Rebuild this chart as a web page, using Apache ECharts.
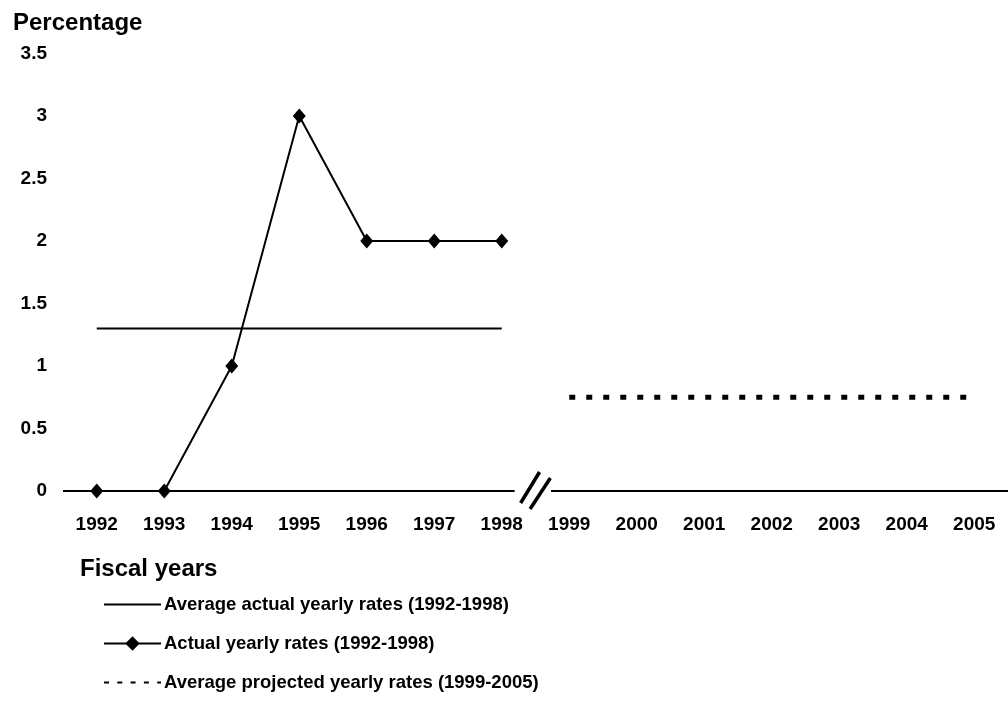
<!DOCTYPE html>
<html>
<head>
<meta charset="utf-8">
<script src="https://cdn.jsdelivr.net/npm/echarts@6/dist/echarts.min.js"></script>
<style>html,body{margin:0;padding:0;background:#fff;}#c{width:1008px;height:702px;}</style>
</head>
<body>
<div id="c"></div>
<script>
const years = ['1992','1993','1994','1995','1996','1997','1998','1999','2000','2001','2002','2003','2004','2005'];
const actualRates = [0, 0, 1, 3, 2, 2, 2, '-', '-', '-', '-', '-', '-', '-'];
const avgActual = [1.3, 1.3, 1.3, 1.3, 1.3, 1.3, 1.3, '-', '-', '-', '-', '-', '-', '-'];
const avgProjected = ['-', '-', '-', '-', '-', '-', '-', 0.75, 0.75, 0.75, 0.75, 0.75, 0.75, 0.75];
const seriesNames = ['Average actual yearly rates (1992-1998)', 'Actual yearly rates (1992-1998)', 'Average projected yearly rates (1999-2005)'];

// axis break (in category-index units on a hidden value axis)
const baseLeft = [[-0.5, 0], [6.19, 0]];
const baseRight = [[6.73, 0], [13.5, 0]];
const slash1 = [[6.56, 0.152], [6.28, -0.096]];
const slash2 = [[6.72, 0.104], [6.42, -0.144]];

const FONT = '"Liberation Sans", Arial, sans-serif';
const chart = echarts.init(document.getElementById('c'));
const lineSeg = (data, w) => ({
  type: 'line', xAxisIndex: 1, data: data, symbol: 'none', clip: false, silent: true,
  lineStyle: { color: '#000', width: w }, z: 1
});
chart.setOption({
  animation: false,
  backgroundColor: '#fff',
  grid: { left: 63, right: -3, top: 53.5, bottom: 211, containLabel: false },
  title: [
    { text: 'Percentage', left: 8, top: 6, textStyle: { fontFamily: FONT, fontSize: 24, fontWeight: 'bold', color: '#000' } },
    { text: 'Fiscal years', left: 75, top: 552, textStyle: { fontFamily: FONT, fontSize: 24, fontWeight: 'bold', color: '#000' } }
  ],
  legend: {
    orient: 'vertical', left: 103, top: 595, padding: 0, itemWidth: 57, itemHeight: 18, itemGap: 20,
    textStyle: { fontFamily: FONT, fontSize: 18.5, fontWeight: 'bold', color: '#000', padding: [0, 0, 0, -2] },
    data: [
      { name: seriesNames[0], itemStyle: { opacity: 0 } },
      { name: seriesNames[1] },
      { name: seriesNames[2], itemStyle: { opacity: 0 }, lineStyle: { width: 2, type: [5, 8.3] } }
    ]
  },
  xAxis: [
    {
      type: 'category', data: years, boundaryGap: true,
      axisLine: { show: false }, axisTick: { show: false },
      axisLabel: { margin: 24, fontFamily: FONT, fontSize: 19, fontWeight: 'bold', color: '#000' }
    },
    { type: 'value', min: -0.5, max: 13.5, show: false }
  ],
  yAxis: {
    type: 'value', min: 0, max: 3.5, interval: 0.5,
    axisLine: { show: false }, axisTick: { show: false }, splitLine: { show: false },
    axisLabel: { margin: 16, fontFamily: FONT, fontSize: 19, fontWeight: 'bold', color: '#000' }
  },
  series: [
    lineSeg(baseLeft, 2),
    lineSeg(baseRight, 2),
    lineSeg(slash1, 3.5),
    lineSeg(slash2, 3.5),
    {
      name: seriesNames[0], type: 'line', data: avgActual, symbol: 'none',
      lineStyle: { color: '#000', width: 2 }, itemStyle: { color: '#000' }, z: 2
    },
    {
      name: seriesNames[1], type: 'line', data: actualRates, symbol: 'diamond', symbolSize: [13, 15],
      lineStyle: { color: '#000', width: 2 }, itemStyle: { color: '#000' }, z: 3
    },
    {
      name: seriesNames[2], type: 'line', data: avgProjected, symbol: 'none',
      lineStyle: { color: '#000', width: 5, type: [6, 11] }, itemStyle: { color: '#000' }, z: 2
    }
  ]
});
</script>
</body>
</html>
